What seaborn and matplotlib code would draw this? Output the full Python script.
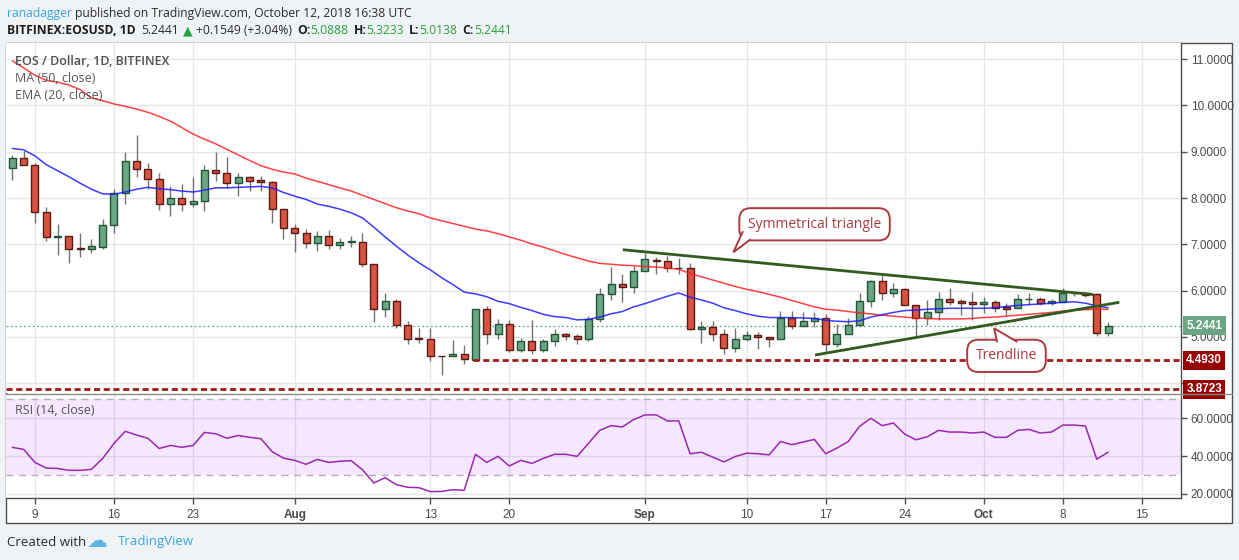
import numpy as np
import pandas as pd
import matplotlib
matplotlib.use('Agg')
import matplotlib.pyplot as plt
import matplotlib.dates as mdates
import matplotlib.transforms as mtransforms
from matplotlib.patches import Rectangle, Polygon
import seaborn as sns

W, H = 1239, 560

# EOS/USD daily candles, BITFINEX
dates = pd.date_range('2018-07-07', '2018-10-12', freq='D')

opens = [8.64, 8.86, 8.71, 7.69, 7.15, 7.17, 6.92, 6.91, 6.94, 7.41,
         8.10, 8.79, 8.62, 8.42, 7.86, 8.01, 7.86, 7.93, 8.60, 8.53,
         8.32, 8.45, 8.38, 8.34, 7.76, 7.35, 7.24, 7.02, 7.19, 6.98,
         7.04, 7.06, 6.57, 5.60, 5.77, 5.25, 4.97, 4.96, 4.60, 4.58,
         4.63, 4.51, 5.60, 5.07, 5.29, 4.71, 4.91, 4.71, 4.91, 5.06,
         5.03, 4.95, 5.38, 5.92, 6.14, 6.07, 6.42, 6.67, 6.65, 6.48,
         6.50, 5.17, 5.22, 5.06, 4.76, 4.95, 5.04, 4.99, 4.95, 5.40,
         5.24, 5.35, 5.42, 4.84, 5.06, 5.25, 5.77, 6.20, 5.94, 6.03,
         5.68, 5.42, 5.55, 5.83, 5.78, 5.76, 5.72, 5.75, 5.64, 5.62,
         5.81, 5.83, 5.73, 5.76, 5.94, 5.94, 5.92, 5.0888]
highs = [8.93, 9.02, 8.75, 7.80, 7.43, 7.17, 7.24, 7.11, 7.54, 8.19,
         8.99, 9.36, 8.75, 8.55, 8.26, 8.30, 8.45, 8.71, 8.99, 8.88,
         8.55, 8.48, 8.47, 8.37, 7.76, 7.43, 7.33, 7.28, 7.31, 7.13,
         7.17, 7.25, 6.57, 5.94, 5.82, 5.35, 5.19, 5.19, 4.60, 4.93,
         4.83, 5.60, 5.66, 5.39, 5.36, 4.97, 5.36, 4.96, 5.17, 5.09,
         5.07, 5.45, 6.06, 6.52, 6.37, 6.53, 6.82, 6.73, 6.75, 6.70,
         6.60, 5.35, 5.35, 5.17, 5.19, 5.12, 5.11, 5.01, 5.56, 5.56,
         5.53, 5.53, 5.50, 5.28, 5.42, 5.96, 6.23, 6.34, 6.16, 6.05,
         5.69, 5.80, 5.98, 6.05, 5.83, 5.98, 5.86, 5.80, 5.74, 5.93,
         5.94, 5.87, 5.81, 6.05, 6.00, 5.96, 5.94, 5.3233]
lows = [8.39, 8.71, 7.45, 7.08, 6.78, 6.59, 6.72, 6.81, 6.91, 7.25,
        7.86, 8.46, 8.19, 7.74, 7.62, 7.73, 7.81, 7.73, 8.37, 8.21,
        8.05, 8.16, 8.16, 7.45, 7.12, 6.84, 6.93, 6.86, 6.91, 6.91,
        6.95, 6.52, 5.33, 5.44, 5.19, 4.84, 4.88, 4.49, 4.19, 4.58,
        4.42, 4.493, 4.84, 4.96, 4.68, 4.68, 4.63, 4.68, 4.80, 4.94,
        4.84, 4.92, 5.33, 5.80, 5.76, 5.96, 6.42, 6.35, 6.40, 6.35,
        5.15, 4.86, 4.92, 4.63, 4.68, 4.91, 4.74, 4.79, 4.95, 5.17,
        5.24, 5.21, 4.68, 4.79, 5.06, 5.24, 5.65, 5.80, 5.86, 5.68,
        5.03, 5.26, 5.37, 5.69, 5.47, 5.37, 5.51, 5.55, 5.45, 5.62,
        5.69, 5.69, 5.68, 5.76, 5.88, 5.87, 5.03, 5.0138]
closes = [8.86, 8.71, 7.69, 7.15, 7.17, 6.91, 6.91, 6.96, 7.41, 8.10,
          8.79, 8.62, 8.42, 7.86, 8.01, 7.86, 7.93, 8.60, 8.53, 8.32,
          8.45, 8.37, 8.34, 7.76, 7.35, 7.24, 7.02, 7.19, 6.98, 7.04,
          7.07, 6.57, 5.60, 5.77, 5.25, 4.96, 4.95, 4.58, 4.58, 4.63,
          4.52, 5.60, 5.07, 5.29, 4.71, 4.91, 4.71, 4.91, 5.06, 5.03,
          4.95, 5.38, 5.92, 6.14, 6.07, 6.42, 6.68, 6.65, 6.48, 6.50,
          5.17, 5.22, 5.06, 4.76, 4.95, 5.04, 4.99, 4.95, 5.41, 5.24,
          5.35, 5.41, 4.84, 5.06, 5.25, 5.77, 6.20, 5.94, 6.03, 5.69,
          5.42, 5.55, 5.83, 5.76, 5.74, 5.72, 5.75, 5.62, 5.61, 5.81,
          5.83, 5.73, 5.78, 5.94, 5.96, 5.91, 5.089, 5.2441]

ma50 = [10.96, 10.81, 10.65, 10.54, 10.50, 10.44, 10.34, 10.16, 10.10, 10.03,
        9.98, 9.92, 9.85, 9.76, 9.66, 9.52, 9.38, 9.27, 9.17, 9.05,
        8.93, 8.81, 8.70, 8.62, 8.56, 8.52, 8.43, 8.36, 8.29, 8.22,
        8.15, 8.06, 7.97, 7.88, 7.79, 7.72, 7.66, 7.57, 7.51, 7.45,
        7.39, 7.33, 7.29, 7.23, 7.16, 7.09, 7.01, 6.94, 6.86, 6.78,
        6.71, 6.64, 6.59, 6.57, 6.55, 6.54, 6.52, 6.51, 6.49, 6.46,
        6.37, 6.30, 6.23, 6.16, 6.09, 6.03, 5.98, 5.92, 5.86, 5.79,
        5.72, 5.65, 5.60, 5.58, 5.55, 5.52, 5.50, 5.47, 5.45, 5.43,
        5.41, 5.40, 5.39, 5.39, 5.39, 5.40, 5.42, 5.43, 5.45, 5.47,
        5.49, 5.51, 5.53, 5.56, 5.58, 5.59, 5.60, 5.60]
ema20 = [9.07, 9.04, 8.91, 8.72, 8.59, 8.46, 8.32, 8.19, 8.09, 8.08,
         8.13, 8.19, 8.23, 8.20, 8.18, 8.15, 8.13, 8.17, 8.22, 8.22,
         8.23, 8.24, 8.25, 8.22, 8.12, 8.04, 7.97, 7.87, 7.82, 7.76,
         7.68, 7.57, 7.37, 7.16, 6.96, 6.77, 6.60, 6.45, 6.28, 6.13,
         5.97, 5.93, 5.87, 5.77, 5.72, 5.64, 5.57, 5.49, 5.44, 5.42,
         5.37, 5.38, 5.43, 5.50, 5.55, 5.65, 5.72, 5.80, 5.88, 5.95,
         5.86, 5.80, 5.73, 5.63, 5.57, 5.50, 5.45, 5.42, 5.42, 5.42,
         5.41, 5.40, 5.36, 5.34, 5.33, 5.35, 5.43, 5.48, 5.53, 5.57,
         5.58, 5.60, 5.61, 5.62, 5.62, 5.62, 5.62, 5.63, 5.66, 5.68,
         5.70, 5.71, 5.73, 5.75, 5.76, 5.73, 5.67, 5.63]
rsi14 = [44.6, 43.5, 36.6, 33.6, 33.4, 32.4, 32.4, 32.9, 38.7, 46.7,
         53.1, 51.1, 49.4, 44.0, 45.6, 44.6, 45.6, 52.5, 51.8, 49.4,
         50.9, 49.9, 49.2, 42.3, 38.9, 37.7, 35.6, 38.2, 36.6, 37.2,
         37.5, 32.7, 25.7, 28.5, 24.8, 23.4, 23.2, 21.1, 21.2, 22.1,
         21.8, 40.9, 36.6, 39.8, 34.7, 37.7, 36.1, 38.7, 40.9, 40.9,
         39.8, 46.7, 53.6, 56.1, 55.4, 59.3, 61.8, 61.8, 58.6, 58.6,
         41.2, 42.0, 39.4, 36.9, 39.7, 41.5, 41.2, 40.6, 47.7, 46.0,
         47.4, 48.8, 41.2, 44.2, 47.7, 55.7, 60.0, 56.1, 57.5, 51.6,
         48.6, 50.2, 53.6, 52.7, 52.7, 52.2, 52.7, 49.9, 49.9, 53.6,
         54.1, 52.2, 52.7, 56.4, 56.4, 55.9, 38.3, 42.0]

# drawings: trendlines (day offset from first candle, price) and support levels
upper_trend_day = [54.04, 95.67]
upper_trend_px = [6.884, 5.917]
lower_trend_day = [71.06, 98.0]
lower_trend_px = [4.611, 5.749]
support_levels = [4.4930, 3.8723]
support_start_day = [40.8, -1.0]

tick_dates = ['2018-07-09', '2018-07-16', '2018-07-23', '2018-08-01', '2018-08-13',
              '2018-08-20', '2018-09-01', '2018-09-10', '2018-09-17', '2018-09-24',
              '2018-10-01', '2018-10-08', '2018-10-15']
tick_labels = ['9', '16', '23', 'Aug', '13', '20', 'Sep', '10', '17', '24', 'Oct', '8', '15']
price_ticks = [4, 5, 6, 7, 8, 9, 10, 11]
rsi_ticks = [20, 40, 60]

UP, DOWN = '#6ba583', '#d75442'
UP_EDGE, DOWN_EDGE = '#225437', '#5b1a13'
WICK = '#737375'
AXC = '#4d4d4d'
TXT = '#4a4a4a'
GRID = '#e6e6e6'
NOTE = '#ab3a3e'
TREND = '#325a1f'
SUPPORT = '#9e1b1b'

sns.set_theme(style='white')
plt.rcParams['font.family'] = ['Liberation Sans', 'DejaVu Sans']

fig = plt.figure(figsize=(W / 100, H / 100), dpi=100, facecolor='#f0f3f6')


def frac(l, t, r, b):
    return [l / W, 1 - b / H, (r - l) / W, (b - t) / H]


def fx(x):
    return x / W


def fy(y):
    return 1 - y / H


fig.add_artist(Rectangle((fx(6), fy(523)), (1232 - 6) / W, (523 - 43) / H,
                         transform=fig.transFigure, fc='white', ec=AXC, lw=1, zorder=-5))

ax = fig.add_axes(frac(6, 43, 1181, 393))
rax = fig.add_axes(frac(6, 394, 1181, 498), sharex=ax)

t = mdates.date2num(dates)
t0 = t[0]
o = np.array(opens)
h = np.array(highs)
l = np.array(lows)
c = np.array(closes)
up = c >= o

# candles
ax.vlines(t, l, h, color=WICK, lw=1, zorder=2)
ax.bar(t, np.maximum(np.abs(c - o), 0.012), bottom=np.minimum(o, c), width=0.62,
       color=np.where(up, UP, DOWN), edgecolor=np.where(up, UP_EDGE, DOWN_EDGE),
       lw=1, zorder=3)

# moving averages
sns.lineplot(x=t, y=ma50, ax=ax, color='#ff2020', lw=1.1, alpha=0.85, zorder=4)
sns.lineplot(x=t, y=ema20, ax=ax, color='#1a1aff', lw=1.1, alpha=0.85, zorder=4)

# last price
ax.axhline(c[-1], color=UP, lw=0.9, ls=(0, (1.5, 2)), zorder=1.5)

x_lo = t0 - 0.56
x_hi = t0 + 103.46
for lev, sd in zip(support_levels, support_start_day):
    ax.hlines(lev, max(t0 + sd, x_lo), x_hi, color=SUPPORT, lw=2, ls=(0, (2.2, 1.3)), zorder=5)

ax.plot(t0 + np.array(upper_trend_day), upper_trend_px, color=TREND, lw=2, zorder=5,
        solid_capstyle='butt')
ax.plot(t0 + np.array(lower_trend_day), lower_trend_px, color=TREND, lw=2, zorder=5,
        solid_capstyle='butt')


def callout(text, cx, cy, tail):
    ax.text(t0 + cx, cy, text, ha='center', va='center', color=NOTE, fontsize=10,
            family=['Open Sans', 'DejaVu Sans'], zorder=8,
            bbox=dict(boxstyle='round,pad=0.62,rounding_size=0.8', fc='white', ec=NOTE, lw=1.4))
    pts = [(t0 + d, p) for d, p in tail]
    ax.add_patch(Polygon(pts, closed=True, fc='white', ec='none', zorder=9))
    ax.plot([p[0] for p in pts], [p[1] for p in pts], color=NOTE, lw=1.4, zorder=9,
            solid_joinstyle='miter')


callout('Symmetrical triangle', 71.02, 7.433,
        [(64.66, 7.27), (63.83, 6.828), (65.31, 7.10)])
callout('Trendline', 88.01, 4.593,
        [(87.17, 4.90), (86.91, 5.188), (88.92, 4.90)])

ax.set_xlim(x_lo, x_hi)
ax.set_ylim(3.791, 11.346)
ax.yaxis.tick_right()
ax.set_yticks(price_ticks)
# the 4.0000 label sits behind the 3.8723 marker on the scale
ax.set_yticklabels(['' if v == 4 else '%.4f' % v for v in price_ticks])
ax.grid(True, color=GRID, lw=1)
ax.set_axisbelow(True)
ax.tick_params(axis='y', right=True, left=False, length=4, width=1, color=AXC,
               labelsize=8.5, labelcolor=TXT, pad=3)
ax.tick_params(axis='x', bottom=False, labelbottom=False)
ax.set_xlabel('')
ax.set_ylabel('')
for s in ['left', 'top', 'bottom']:
    ax.spines[s].set_visible(False)
ax.spines['right'].set_color(AXC)
ax.spines['right'].set_linewidth(1)

# price labels on the scale
trans = mtransforms.blended_transform_factory(ax.transAxes, ax.transData)
for val, col in [(c[-1], UP), (support_levels[0], '#990000'), (support_levels[1], '#990000')]:
    ax.text(1.0045, val, '%.4f' % val, transform=trans, ha='left', va='center', color='white',
            fontsize=8.5, fontweight='bold', clip_on=False, zorder=10,
            bbox=dict(boxstyle='square,pad=0.28', fc=col, ec='none'))

# RSI panel
rax.axhspan(30, 70, color='#9915ff', alpha=0.1, lw=0, zorder=1)
for lev in [30, 70]:
    rax.axhline(lev, color='#b4acbc', lw=1, ls=(0, (5, 4)), zorder=2)
sns.lineplot(x=t, y=rsi14, ax=rax, color='#9c27b0', lw=1.1, zorder=4)
rax.set_ylim(17.72, 72.89)
rax.yaxis.tick_right()
rax.set_yticks(rsi_ticks)
rax.set_yticklabels(['%.4f' % v for v in rsi_ticks])
rax.grid(True, color=GRID, lw=1, zorder=0)
rax.set_axisbelow(True)
rax.tick_params(axis='y', right=True, left=False, length=4, width=1, color=AXC,
                labelsize=8.5, labelcolor=TXT, pad=3)
rax.set_xticks(mdates.date2num(pd.to_datetime(tick_dates)))
rax.set_xticklabels(tick_labels)
rax.tick_params(axis='x', bottom=True, length=4, width=1, color=AXC,
                labelsize=8.5, labelcolor=TXT, pad=4)
for lab in rax.get_xticklabels():
    if lab.get_text() in ('Aug', 'Sep', 'Oct'):
        lab.set_fontweight('bold')
rax.set_xlabel('')
rax.set_ylabel('')
rax.set_xlim(x_lo, x_hi)
for s in ['left', 'top']:
    rax.spines[s].set_visible(False)
for s in ['right', 'bottom']:
    rax.spines[s].set_color(AXC)
    rax.spines[s].set_linewidth(1)

# panel separator
fig.add_artist(plt.Line2D([fx(6), fx(1232)], [fy(393.5), fy(393.5)], color='#8a8a8a', lw=1))

# legend texts
OS = ['Open Sans', 'DejaVu Sans']
fig.text(fx(15), fy(61), 'EOS / Dollar, 1D, BITFINEX', fontsize=9, fontweight='semibold',
         color='#4f4f4f', va='center', family=OS)
fig.text(fx(15), fy(78), 'MA (50, close)', fontsize=9, color='#555555', va='center', family=OS)
fig.text(fx(15), fy(95), 'EMA (20, close)', fontsize=9, color='#555555', va='center', family=OS)
fig.text(fx(15), fy(411), 'RSI (14, close)', fontsize=9, color='#555555', va='center', family=OS)

# header
renderer = fig.canvas.get_renderer()


def chain(x, y, parts):
    for s, kw in parts:
        if s == '':
            x += kw
            continue
        tx = fig.text(fx(x), fy(y), s, va='center', ha='left', **kw)
        x += tx.get_window_extent(renderer=renderer).width
    return x


base = dict(fontsize=8.7, color='#2b2b2b', family=OS)
green = dict(fontsize=8.7, color='#27a33a', family=OS)
bold = dict(fontsize=8.7, color='#1e1e1e', family=OS, fontweight='bold')
chain(7, 13, [('ranadagger', dict(fontsize=8.7, color='#3aa6df', family=OS)),
              ('', 3),
              ('published on TradingView.com, October 12, 2018 16:38 UTC', base)])
chain(7, 31, [('BITFINEX:EOSUSD, 1D', bold), ('', 6),
              ('5.2441', base), ('', 4),
              ('\u25b2', dict(fontsize=9, color='#27a33a', family=['DejaVu Sans'])), ('', 3),
              ('+0.1549 (+3.04%)', base), ('', 5),
              ('O:', bold), ('5.0888', green), ('', 5),
              ('H:', bold), ('5.3233', green), ('', 5),
              ('L:', bold), ('5.0138', green), ('', 5),
              ('C:', bold), ('5.2441', green)])

# footer
fig.text(fx(7), fy(542), 'Created with', fontsize=9.5, color='#2b2b2b', va='center', family=OS)
fig.text(fx(87), fy(541), '\u2601', fontsize=15, color='#5fb4e6', va='center',
         family=['DejaVu Sans'])
fig.text(fx(118), fy(542), 'TradingView', fontsize=9.5, color='#3aa6df', va='center', family=OS)

fig.savefig('out.png', dpi=100, facecolor=fig.get_facecolor())
